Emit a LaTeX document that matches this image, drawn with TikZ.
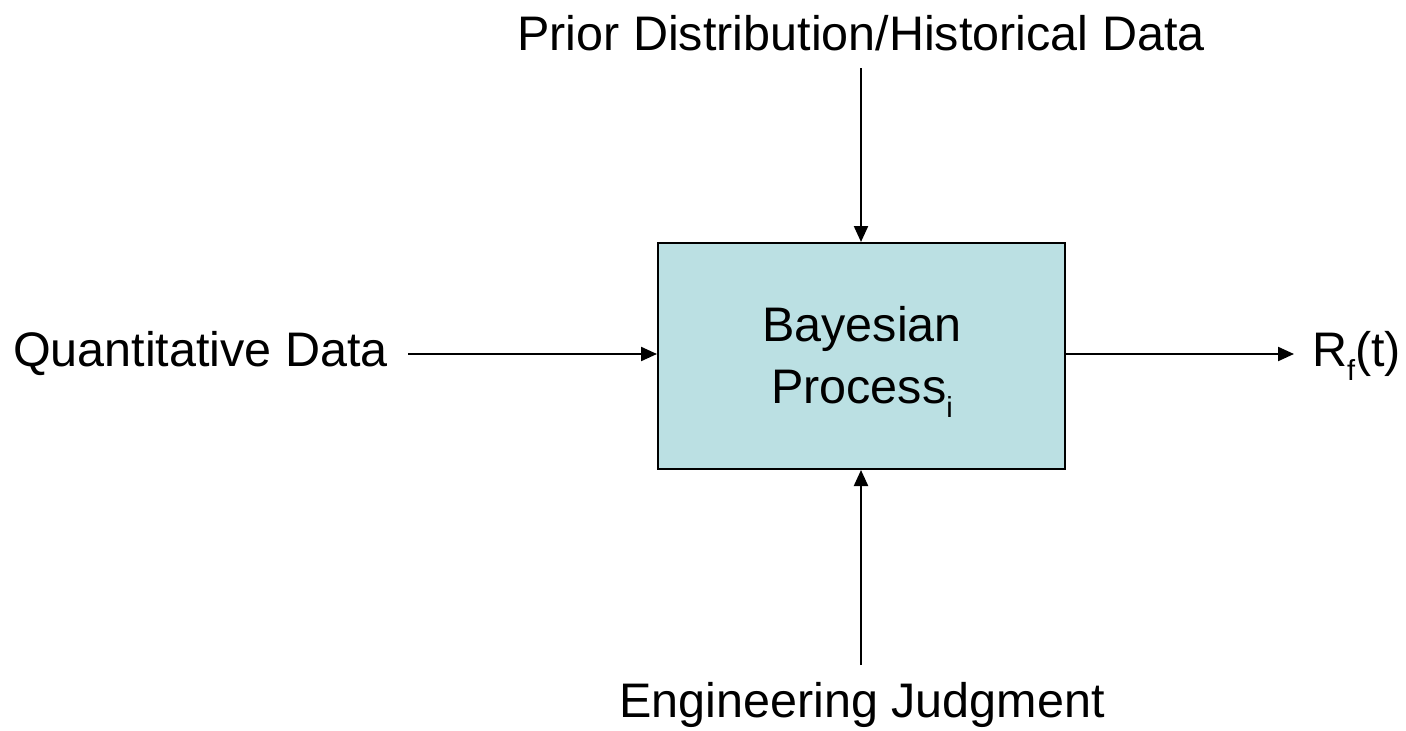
\documentclass[tikz,border=0pt]{standalone}
\usepackage{fontspec}
\setmainfont{Liberation Sans}
\usetikzlibrary{arrows.meta}
\definecolor{boxfill}{HTML}{BBE0E3}
\newcommand{\lowsub}[1]{\raisebox{-0.28em}{\fontsize{29}{30}\selectfont #1}}
\tikzset{
  lbl/.style={inner sep=0pt, font=\fontsize{48.5}{60}\selectfont},
  procbox/.style={draw=black, line width=2pt, fill=boxfill, minimum width=407pt,
    minimum height=226pt, inner sep=0pt, align=center, font=\fontsize{48.5}{62}\selectfont},
  flow/.style={line width=2.2pt, -{Triangle[length=16pt,width=14pt]}}
}
\begin{document}
\begin{tikzpicture}[x=1pt,y=-1pt]
  \useasboundingbox (0,0) rectangle (1406,731);
  % central process block
  \node[procbox] (bp) at (861.5,356) {};
  \node[lbl, align=center] (bptext) at (862,362) {Bayesian\\[2pt]Process\lowsub{i}};
  % surrounding labels
  \node[lbl] (prior) at (861,33) {Prior Distribution/Historical Data};
  \node[lbl, anchor=east] (quant) at (388,354) {Quantitative Data};
  \node[lbl] (eng) at (862,705) {Engineering Judgment};
  \node[lbl, anchor=west] (rf) at (1312,356) {R\lowsub{f}(t)};
  % arrow ends
  \coordinate (ptop) at (861,68);
  \coordinate (qin) at (408,354);
  \coordinate (ebot) at (861,665);
  \coordinate (rout) at (1294,354);
  % connectors
  \draw[flow] (ptop) -- (bp.north -| ptop);
  \draw[flow] (qin) -- (bp.west |- qin);
  \draw[flow] (ebot) -- (bp.south -| ebot);
  \draw[flow] (bp.east |- rout) -- (rout);
\end{tikzpicture}
\end{document}
